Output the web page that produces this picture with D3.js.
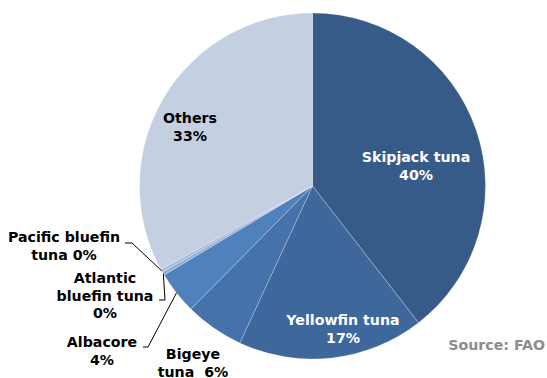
<!DOCTYPE html>
<html>
<head>
<meta charset="utf-8">
<script src="https://cdn.jsdelivr.net/npm/d3@7/dist/d3.min.js"></script>
<style>
  html, body { margin: 0; padding: 0; background: #fff; }
  svg { display: block; }
  text { font-family: "DejaVu Sans", Verdana, sans-serif; font-weight: bold; }
</style>
</head>
<body>
<svg id="chart" width="547" height="378"></svg>
<script>
// Share of world tuna catch by species (per cent)
const species = ["Skipjack tuna", "Yellowfin tuna", "Bigeye tuna", "Albacore",
                 "Atlantic bluefin tuna", "Pacific bluefin tuna", "Others"];
const shares = [39.5, 17.4, 5.5, 4.0, 0.3, 0.3, 33.0];
const shareLabels = ["40%", "17%", "6%", "4%", "0%", "0%", "33%"];
const sliceColors = ["#365b88", "#3e679c", "#4572aa", "#4f81bd", "#93abd3", "#aabbd8", "#c4cfe1"];
const sourceNote = "Source: FAO";

const svg = d3.select("#chart");
const cx = 312.5, cy = 186, radius = 173;

const pie = d3.pie().sort(null).value(d => d.value);
const arc = d3.arc().innerRadius(0).outerRadius(radius);
const data = species.map((s, i) => ({ name: s, value: shares[i], label: shareLabels[i], color: sliceColors[i] }));
const arcs = pie(data);

const g = svg.append("g").attr("transform", `translate(${cx},${cy})`);
g.selectAll("path")
  .data(arcs)
  .join("path")
  .attr("d", arc)
  .attr("fill", d => d.data.color)
  .attr("stroke", "rgba(255,255,255,0.35)")
  .attr("stroke-width", 0.7);

// Label layout: lines of text, anchor centre, first baseline, fill
const labelSpecs = [
  { i: 0, lines: ["Skipjack tuna", "40%"], x: 416, y: 162, fill: "#ffffff" },
  { i: 1, lines: ["Yellowfin tuna", "17%"], x: 343, y: 325, fill: "#ffffff" },
  { i: 2, lines: ["Bigeye", "tuna  6%"], x: 193, y: 359, fill: "#000000" },
  { i: 3, lines: ["Albacore", "4%"], x: 102, y: 347, fill: "#000000" },
  { i: 4, lines: ["Atlantic", "bluefin tuna", "0%"], x: 105, y: 283, fill: "#000000" },
  { i: 5, lines: ["Pacific bluefin", "tuna 0%"], x: 64, y: 242, fill: "#000000" },
  { i: 6, lines: ["Others", "33%"], x: 190, y: 123, fill: "#000000" }
];

labelSpecs.forEach(spec => {
  const t = svg.append("text")
    .attr("text-anchor", "middle")
    .attr("font-size", 14.2)
    .attr("fill", spec.fill)
    .attr("xml:space", "preserve");
  spec.lines.forEach((ln, k) => {
    t.append("tspan").attr("x", spec.x).attr("y", spec.y + k * 17.5).text(ln);
  });
});

// Leader lines from small slices to their labels
const outer = d3.arc().innerRadius(radius).outerRadius(radius);
function rimPoint(i) {
  const c = outer.centroid(arcs[i]);
  return [cx + c[0], cy + c[1]];
}
const leaders = [
  { i: 5, start: [125, 243], elbow: [132, 243] },
  { i: 4, start: [159, 300], elbow: [165, 300] },
  { i: 3, start: [143, 347], elbow: [148, 347] }
];
const line = d3.line();
leaders.forEach(l => {
  svg.append("path")
    .attr("d", line([l.start, l.elbow, rimPoint(l.i)]))
    .attr("fill", "none")
    .attr("stroke", "#000")
    .attr("stroke-width", 1);
});

svg.append("text")
  .attr("x", 545).attr("y", 350)
  .attr("text-anchor", "end")
  .attr("font-size", 14.2)
  .attr("fill", "#8c8c8c")
  .text(sourceNote);
</script>
</body>
</html>
